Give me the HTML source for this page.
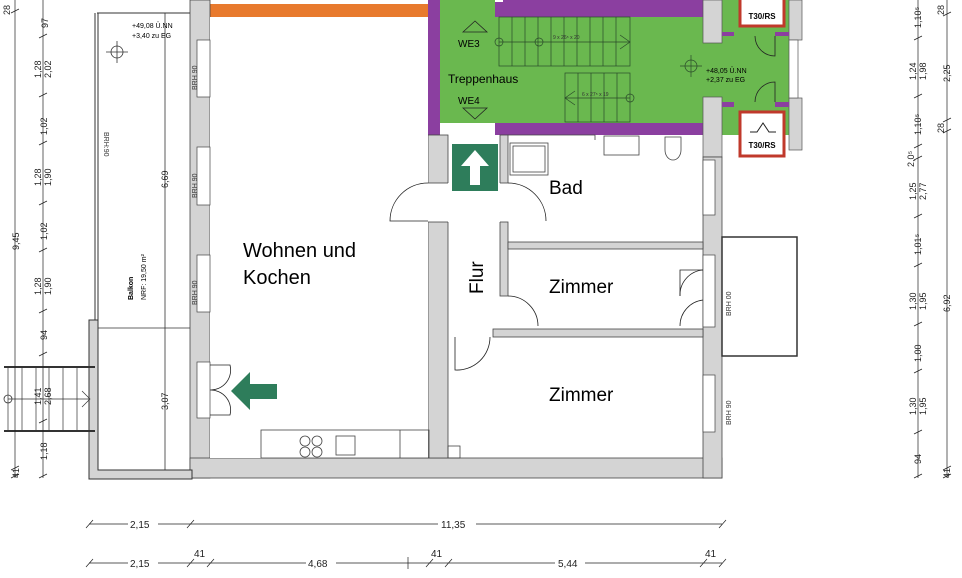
<!DOCTYPE html>
<html><head><meta charset="utf-8"><style>
html,body{margin:0;padding:0;background:#fff;}
svg{display:block;font-family:"Liberation Sans",Arial,sans-serif;}
.d{font-size:9px;fill:#222;}
.s{font-size:7px;fill:#333;}
</style></head><body>
<svg width="962" height="578" viewBox="0 0 962 578" xmlns="http://www.w3.org/2000/svg">
<rect width="962" height="578" fill="#fff"/>

<!-- stair hall green -->
<rect x="440" y="0" width="263" height="123" fill="#6ab84f"/>
<rect x="703" y="0" width="86" height="135" fill="#6ab84f"/>
<rect x="455" y="123" width="40" height="12" fill="#fff"/>
<!-- purple walls -->
<rect x="428" y="0" width="12" height="135" fill="#8b3fa0"/>
<rect x="495" y="0" width="208" height="17" fill="#8b3fa0"/>
<rect x="495" y="123" width="208" height="12" fill="#8b3fa0"/>
<rect x="495" y="0" width="8" height="2" fill="#fff"/>
<!-- gray blocks right of hall -->
<rect x="703" y="0" width="19" height="43" fill="#d4d4d4" stroke="#555" stroke-width="0.7"/>
<rect x="703" y="97" width="19" height="60" fill="#d4d4d4" stroke="#555" stroke-width="0.7"/>
<rect x="789" y="0" width="13" height="40" fill="#d4d4d4" stroke="#555" stroke-width="0.7"/>
<rect x="789" y="98" width="13" height="52" fill="#d4d4d4" stroke="#555" stroke-width="0.7"/>
<rect x="789" y="40" width="9" height="58" fill="#fff" stroke="#555" stroke-width="0.7"/>
<rect x="722" y="32" width="12" height="4" fill="#8b3fa0"/><rect x="775" y="32" width="14" height="4" fill="#8b3fa0"/>
<rect x="722" y="102" width="12" height="5" fill="#8b3fa0"/><rect x="775" y="102" width="14" height="5" fill="#8b3fa0"/>
<path d="M775 36 V56 A20 20 0 0 1 755 36" fill="none" stroke="#222" stroke-width="0.8"/>
<path d="M775 102 V82 A20 20 0 0 0 755 102" fill="none" stroke="#222" stroke-width="0.8"/>
<!-- T30 boxes -->
<rect x="740" y="-2" width="44" height="28" fill="#fff" stroke="#c0392b" stroke-width="3"/>
<text x="762" y="19" font-size="8" font-weight="bold" text-anchor="middle">T30/RS</text>
<rect x="740" y="112" width="44" height="44" fill="#fff" stroke="#c0392b" stroke-width="3"/>
<path d="M750 132 H757 L763 123 L769 132 H776" fill="none" stroke="#222" stroke-width="1"/>
<text x="762" y="148" font-size="8" font-weight="bold" text-anchor="middle">T30/RS</text>
<!-- stairs -->
<g stroke="#2a4a2a" stroke-width="0.7" fill="none">
<rect x="499" y="17" width="131" height="49"/>
<path d="M512 17V66M525 17V66M538 17V66M551 17V66M564 17V66M577 17V66M590 17V66M603 17V66M616 17V66"/>
<rect x="565" y="73" width="65" height="49"/>
<path d="M578 73V122M591 73V122M604 73V122M617 73V122"/>
<path d="M499 42H630M620 35L630 42L620 49M630 98H565M575 91L565 98L575 105"/>
<circle cx="499" cy="42" r="4"/><circle cx="539" cy="42" r="4"/><circle cx="630" cy="98" r="4"/>
<path d="M680 66H702M691 55V77"/><circle cx="691" cy="66" r="6"/>
</g>
<text x="553" y="39" font-size="5" fill="#333">9 x 26⁵ x 20</text>
<text x="582" y="96" font-size="5" fill="#333">6 x 27⁵ x 19</text>
<text x="706" y="73" font-size="7">+48,05 Ü.NN</text>
<text x="706" y="82" font-size="7">+2,37 zu EG</text>
<path d="M463 32 L475 21 L487 32 Z M463 108 L475 119 L487 108 Z" fill="none" stroke="#222" stroke-width="0.8"/>
<text x="458" y="47" font-size="10">WE3</text>
<text x="448" y="83" font-size="12">Treppenhaus</text>
<text x="458" y="104" font-size="10">WE4</text>

<!-- orange bar & top -->
<rect x="210" y="4" width="218" height="13" fill="#e87a2e"/>
<!-- main walls (gray) -->
<g fill="#d4d4d4" stroke="#444" stroke-width="0.8">
<rect x="190" y="0" width="20" height="478"/>
<rect x="190" y="458" width="532" height="20"/>
<rect x="703" y="157" width="19" height="321"/>
<rect x="428" y="135" width="20" height="48"/>
<rect x="428" y="222" width="20" height="236"/>
<rect x="500" y="135" width="8" height="48"/>
<rect x="500" y="222" width="8" height="74"/>
<rect x="508" y="242" width="195" height="7"/>
<rect x="493" y="329" width="210" height="8"/>
</g>
<rect x="210" y="17" width="218" height="441" fill="#fff"/>
<rect x="448" y="135" width="255" height="323" fill="none"/>
<rect x="448" y="183" width="52" height="39" fill="#fff"/>
<!-- windows left wall -->
<g fill="#fff" stroke="#444" stroke-width="0.7">
<rect x="197" y="40" width="13" height="57"/><rect x="197" y="147" width="13" height="58"/><rect x="197" y="255" width="13" height="57"/>
<rect x="197" y="362" width="13" height="56"/>
<rect x="703" y="160" width="12" height="55"/><rect x="703" y="255" width="12" height="72"/><rect x="703" y="375" width="12" height="57"/>
</g>
<g class="s">
<text transform="translate(197,90) rotate(-90)">BRH   90</text>
<text transform="translate(197,198) rotate(-90)">BRH   90</text>
<text transform="translate(197,305) rotate(-90)">BRH   90</text>
<text transform="translate(731,316) rotate(-90)">BRH   00</text>
<text transform="translate(731,425) rotate(-90)">BRH   90</text>
</g>
<!-- entrance double door -->
<path d="M210 365 H230 A20 20 0 0 1 210 390 M210 415 H230 A20 20 0 0 0 210 390" fill="none" stroke="#222" stroke-width="0.8"/>
<polygon points="231,391 250,372 250,384 277,384 277,399 250,399 250,410" fill="#2e7d5b"/>
<!-- doors -->
<g fill="none" stroke="#222" stroke-width="0.8">
<path d="M428 183 A38 38 0 0 0 390 221 H428"/>
<path d="M508 183 A38 38 0 0 1 546 221"/>
<path d="M508 296 A30 30 0 0 1 538 326"/>
<path d="M455 337 V370 A33 33 0 0 0 490 337"/>
<path d="M703 270 H680 V296 M680 326 A26 26 0 0 1 703 300"/>
<path d="M703 270 A25 25 0 0 0 680 296"/>
</g>
<!-- emergency arrow -->
<rect x="452" y="144" width="46" height="47" fill="#2e7d5b"/>
<polygon points="475,150 489,166 480,166 480,185 470,185 470,166 461,166" fill="#fff"/>
<!-- bath fixtures -->
<g fill="none" stroke="#444" stroke-width="0.8">
<rect x="510" y="143" width="38" height="32"/><rect x="513" y="146" width="32" height="26"/>
<rect x="604" y="136" width="35" height="19"/>
<path d="M665 137 H681 V150 A8 10 0 0 1 665 150 Z"/>
<path d="M508 135 H595 V140"/>
<rect x="261" y="430" width="168" height="28"/><path d="M400 430V458"/>
<circle cx="305" cy="441" r="5"/><circle cx="317" cy="441" r="5"/><circle cx="305" cy="452" r="5"/><circle cx="317" cy="452" r="5"/>
<rect x="336" y="436" width="19" height="19"/>
<rect x="448" y="446" width="12" height="12"/>
</g>
<!-- room labels -->
<text x="243" y="257" font-size="20">Wohnen und</text>
<text x="243" y="284" font-size="20">Kochen</text>
<text x="549" y="194" font-size="19">Bad</text>
<text x="549" y="293" font-size="19">Zimmer</text>
<text x="549" y="401" font-size="19">Zimmer</text>
<text transform="translate(483,294) rotate(-90)" font-size="19">Flur</text>

<!-- right balcony -->
<rect x="722" y="237" width="75" height="119" fill="none" stroke="#333" stroke-width="1.5"/>

<!-- left balcony -->
<g fill="none" stroke="#333">
<path d="M95 13 V320 M98 13 V320" stroke-width="1"/>
<path d="M97 13 H190" stroke-width="1"/>
<path d="M97 328 H190 M165 13 V478" stroke-width="0.8"/>
<path d="M106 52 H128 M117 41 V63" stroke-width="0.8"/><circle cx="117" cy="52" r="6" stroke-width="0.8"/>
</g>
<path d="M89 320 H98 V470 H192 V479 H89 Z" fill="#d4d4d4" stroke="#333" stroke-width="1"/>
<text x="132" y="28" font-size="7">+49,08 Ü.NN</text>
<text x="132" y="38" font-size="7">+3,40 zu EG</text>
<text transform="translate(104,132) rotate(90)" class="s">BRH:90</text>
<text transform="translate(133,300) rotate(-90)" font-size="7" font-weight="bold">Balkon</text>
<text transform="translate(146,300) rotate(-90)" font-size="7">NRF: 19,50 m²</text>
<g class="d">
<text transform="translate(168,188) rotate(-90)">6,69</text>
<text transform="translate(168,410) rotate(-90)">3,07</text>
</g>

<!-- external stair -->
<g stroke="#333" fill="none">
<path d="M4 367 H95 M4 431 H95" stroke-width="2"/>
<path d="M8 367V431M22 367V431M36 367V431M49 367V431M63 367V431M77 367V431" stroke-width="0.7"/>
<path d="M8 399 H90 M82 391 L90 399 L82 407" stroke-width="0.7"/>
<circle cx="8" cy="399" r="4" stroke-width="0.8"/>
</g>

<!-- left dims -->
<g stroke="#222" stroke-width="0.7">
<path d="M15 0 V478 M43 0 V478"/>
<path d="M11 13 L19 9 M11 478 L19 474 M39 38 L47 34 M39 97 L47 93 M39 145 L47 141 M39 205 L47 201 M39 252 L47 248 M39 313 L47 309 M39 356 L47 352 M39 423 L47 419 M39 478 L47 474 M11 470 L19 466"/>
</g>
<g class="d">
<text transform="translate(10,15) rotate(-90)">28</text>
<text transform="translate(19,250) rotate(-90)">9,45</text>
<text transform="translate(19,478) rotate(-90)">41</text>
<text transform="translate(48,28) rotate(-90)">97</text>
<text transform="translate(41,78) rotate(-90)">1,28</text><text transform="translate(51,78) rotate(-90)">2,02</text>
<text transform="translate(47,135) rotate(-90)">1,02</text>
<text transform="translate(41,186) rotate(-90)">1,28</text><text transform="translate(51,186) rotate(-90)">1,90</text>
<text transform="translate(47,240) rotate(-90)">1,02</text>
<text transform="translate(41,295) rotate(-90)">1,28</text><text transform="translate(51,295) rotate(-90)">1,90</text>
<text transform="translate(47,340) rotate(-90)">94</text>
<text transform="translate(41,405) rotate(-90)">1,41</text><text transform="translate(51,405) rotate(-90)">2,68</text>
<text transform="translate(47,460) rotate(-90)">1,18</text>
</g>

<!-- right dims -->
<g stroke="#222" stroke-width="0.7">
<path d="M918 0 V478 M947 0 V478"/>
<path d="M914 40 L922 36 M914 98 L922 94 M914 148 L922 144 M914 160 L922 156 M914 218 L922 214 M914 267 L922 263 M914 326 L922 322 M914 373 L922 369 M914 434 L922 430 M914 478 L922 474 M943 16 L951 12 M943 122 L951 118 M943 133 L951 129 M943 470 L951 466 M943 478 L951 474"/>
</g>
<g class="d">
<text transform="translate(921,28) rotate(-90)">1,10⁵</text>
<text transform="translate(916,80) rotate(-90)">1,24</text><text transform="translate(926,80) rotate(-90)">1,98</text>
<text transform="translate(921,135) rotate(-90)">1,10⁵</text>
<text transform="translate(914,167) rotate(-90)">2,0⁵</text>
<text transform="translate(916,200) rotate(-90)">1,25</text><text transform="translate(926,200) rotate(-90)">2,77</text>
<text transform="translate(921,255) rotate(-90)">1,01⁵</text>
<text transform="translate(916,310) rotate(-90)">1,30</text><text transform="translate(926,310) rotate(-90)">1,95</text>
<text transform="translate(921,362) rotate(-90)">1,00</text>
<text transform="translate(916,415) rotate(-90)">1,30</text><text transform="translate(926,415) rotate(-90)">1,95</text>
<text transform="translate(921,464) rotate(-90)">94</text>
<text transform="translate(944,15) rotate(-90)">28</text>
<text transform="translate(950,82) rotate(-90)">2,25</text>
<text transform="translate(944,133) rotate(-90)">28</text>
<text transform="translate(950,312) rotate(-90)">6,92</text>
<text transform="translate(950,478) rotate(-90)">41</text>
</g>

<!-- bottom dims -->
<g stroke="#222" stroke-width="0.7">
<path d="M89 524 H722 M89 563 H722"/>
<path d="M86 528 L93 520 M187 528 L194 520 M719 528 L726 520 M86 567 L93 559 M187 567 L194 559 M207 567 L214 559 M426 567 L433 559 M445 567 L452 559 M700 567 L707 559 M719 567 L726 559 M408 557 V569"/>
</g>
<g font-size="10" fill="#222">
<rect x="128" y="518" width="30" height="12" fill="#fff"/><text x="130" y="528">2,15</text>
<rect x="438" y="518" width="38" height="12" fill="#fff"/><text x="441" y="528">11,35</text>
<rect x="128" y="557" width="30" height="12" fill="#fff"/><text x="130" y="567">2,15</text>
<rect x="306" y="557" width="30" height="12" fill="#fff"/><text x="308" y="567">4,68</text>
<rect x="555" y="557" width="30" height="12" fill="#fff"/><text x="558" y="567">5,44</text>
<text x="194" y="557">41</text><text x="431" y="557">41</text><text x="705" y="557">41</text>
</g>
</svg>
</body></html>
